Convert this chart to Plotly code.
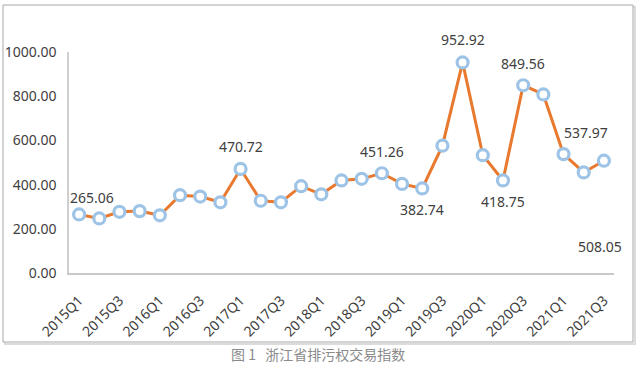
import plotly.graph_objects as go

quarters = [f"{y}Q{q}" for y in range(2015, 2022) for q in range(1, 5)][:27]
values = [265.06, 247, 277, 280, 261, 352, 346, 320, 470.72, 327, 320, 393,
          356, 419, 426, 451.26, 403, 382.74, 576, 952.92, 533, 418.75,
          849.56, 808, 537.97, 455, 508.05]
tick_labels = quarters[::2]

# labelled points: index -> (xshift, yshift)
label_idx = [0, 8, 15, 17, 19, 21, 22, 24, 26]
label_shift = {0: (13, 17), 8: (0, 22), 15: (0, 22), 17: (0, -21), 19: (0, 23),
               21: (0, -21), 22: (0, 22), 24: (22, 22), 26: (-4, -86)}

NUMFONT = "Noto Sans"
CJK = "Noto Sans CJK SC"
TXT = "#404040"

# plot area in pixels
L, R, T, B = 69, 614, 52, 273
W, H = R - L, B - T


def px(x):
    return (x - L) / W


def py(y):
    return (B - y) / H


fig = go.Figure()
fig.add_trace(go.Scatter(
    x=quarters, y=values, mode="lines+markers",
    line=dict(color="#E8792E", width=3),
    marker=dict(symbol="circle", size=11, color="white",
                line=dict(color="#9DC3E6", width=3.2)),
    hoverinfo="x+y", showlegend=False, cliponaxis=False,
))

for i in label_idx:
    dx, dy = label_shift[i]
    fig.add_annotation(x=quarters[i], y=values[i], text=f"{values[i]:.2f}",
                       showarrow=False, xshift=dx, yshift=dy,
                       font=dict(family=NUMFONT, size=14, color=TXT))

# chart frame with soft shadow
fig.add_shape(type="rect", xref="paper", yref="paper",
              x0=px(5), x1=px(635), y0=py(344), y1=py(7),
              line=dict(color="#dcdcdc", width=2), layer="below")
fig.add_shape(type="rect", xref="paper", yref="paper",
              x0=px(3), x1=px(633), y0=py(342), y1=py(5),
              line=dict(color="#a8a8a8", width=1), fillcolor="white", layer="below")

fig.add_annotation(xref="paper", yref="paper", x=px(318), y=py(366),
                   text="图 1&nbsp;&nbsp;&nbsp;浙江省排污权交易指数", showarrow=False,
                   font=dict(family=CJK, size=14, color="#8a8a8a"))

fig.update_layout(
    width=640, height=380,
    margin=dict(l=L, r=640 - R, t=T, b=380 - B),
    paper_bgcolor="white", plot_bgcolor="rgba(0,0,0,0)",
    font=dict(family=NUMFONT, color=TXT),
    xaxis=dict(type="category", range=[-0.5, 26.5], tickmode="array",
               tickvals=tick_labels, ticktext=tick_labels, tickangle=-45,
               showline=True, linecolor="#c8c8c8", linewidth=1.5,
               showgrid=False, ticks="", zeroline=False, automargin=False,
               tickfont=dict(family=NUMFONT, size=14, color=TXT),
               ticklabelstandoff=12),
    yaxis=dict(range=[0, 1000], tickvals=[0, 200, 400, 600, 800, 1000],
               tickformat=".2f", showline=True, linecolor="#d0d0d0", linewidth=1.5,
               showgrid=False, zeroline=False, ticks="", automargin=False,
               tickfont=dict(family=NUMFONT, size=14, color=TXT),
               ticklabelstandoff=8),
)

fig.write_html("out.html", config={"displayModeBar": False},
               post_script="document.body.style.margin='0';document.body.style.overflow='hidden';")
